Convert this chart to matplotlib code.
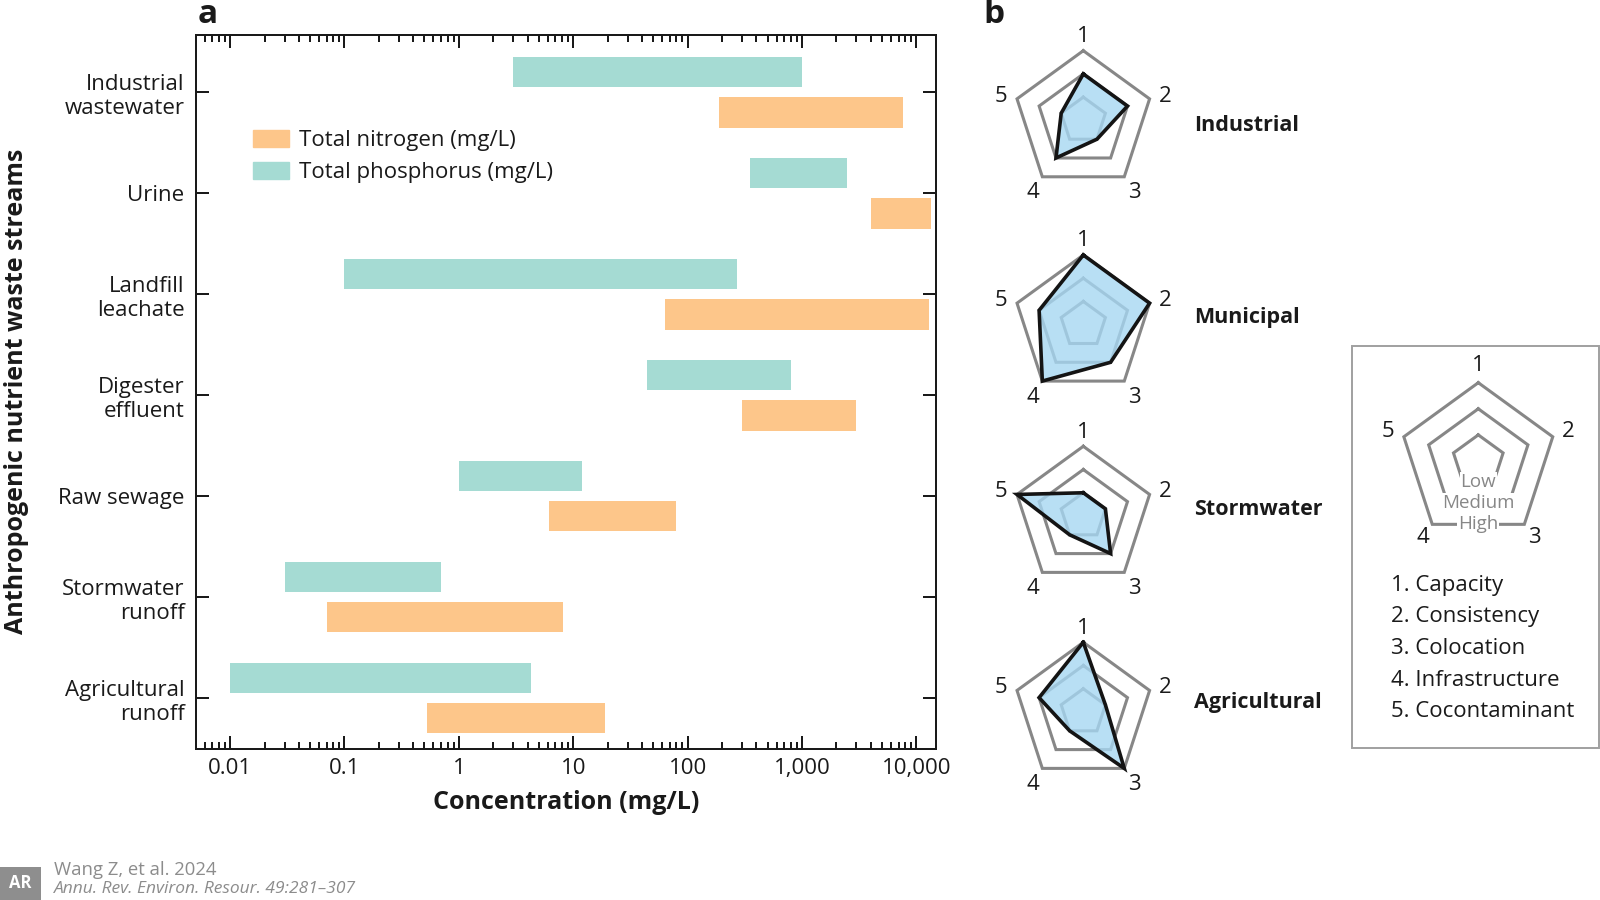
import numpy as np
import matplotlib
matplotlib.use("Agg")
import matplotlib.pyplot as plt
import matplotlib.transforms as mtransforms
from matplotlib.patches import Patch, Rectangle
from matplotlib.ticker import FixedLocator, LogLocator, NullFormatter

plt.rcParams['font.family'] = ['Open Sans', 'DejaVu Sans']

# ---------------- data ----------------
categories = ["Industrial\nwastewater", "Urine", "Landfill\nleachate", "Digester\neffluent",
              "Raw sewage", "Stormwater\nrunoff", "Agricultural\nrunoff"]
phosphorus_low = [3, 350, 0.1, 44, 1, 0.03, 0.01]
phosphorus_high = [1000, 2500, 270, 800, 12, 0.7, 4.3]
nitrogen_low = [190, 4000, 64, 300, 6.2, 0.07, 0.53]
nitrogen_high = [7700, 13500, 13000, 3000, 80, 8.2, 19]

x_ticks = [0.01, 0.1, 1, 10, 100, 1000, 10000]
x_tick_labels = ["0.01", "0.1", "1", "10", "100", "1,000", "10,000"]

radar_names = ["Industrial", "Municipal", "Stormwater", "Agricultural"]
radar_values = [
    [2, 2, 1, 2, 1],
    [3, 3, 2, 3, 2],
    [1, 1, 2, 1, 3],
    [3, 1, 3, 1, 2],
]
radar_levels = [1, 2, 3]
level_names = ["Low", "Medium", "High"]
criteria = ["Capacity", "Consistency", "Colocation", "Infrastructure", "Cocontaminant"]

TEAL = "#A5DBD3"
ORANGE = "#FDC68A"
GRAY = "#878787"
FILL = "#A6D7F2"

W, H = 1600, 900
fig = plt.figure(figsize=(16, 9), dpi=100)


def fx(px):
    return px / W


def fy(py):
    return 1 - py / H


# ---------------- panel a ----------------
ax = fig.add_axes([fx(195.7), fy(749.3), fx(936) - fx(195.7), fy(35) - fy(749.3)])
y = np.arange(len(categories))
p_lo = np.array(phosphorus_low)
p_hi = np.array(phosphorus_high)
n_lo = np.array(nitrogen_low)
n_hi = np.array(nitrogen_high)
ax.barh(y - 0.2, p_hi - p_lo, left=p_lo, height=0.3, color=TEAL, zorder=2)
ax.barh(y + 0.2, n_hi - n_lo, left=n_lo, height=0.3, color=ORANGE, zorder=2)

ax.set_xscale("log")
ax.set_xlim(0.005, 14870)
ax.set_ylim(6.508, -0.568)
ax.xaxis.set_major_locator(FixedLocator(x_ticks))
ax.set_xticklabels(x_tick_labels)
ax.xaxis.set_minor_locator(LogLocator(base=10, subs=np.arange(2, 10)))
ax.xaxis.set_minor_formatter(NullFormatter())
ax.set_yticks(y)
ax.set_yticklabels(categories)
for lab in ax.get_yticklabels():
    lab.set_linespacing(1.2)

ax.tick_params(axis="both", which="both", direction="in", top=True, right=True,
               width=1.44, colors="#1a1a1a", labelcolor="#1a1a1a")
ax.tick_params(axis="x", which="major", length=9.1, labelsize=16, pad=6)
ax.tick_params(axis="x", which="minor", length=4.8)
ax.tick_params(axis="y", which="major", length=9.4, labelsize=16, pad=8)
for s in ax.spines.values():
    s.set_linewidth(1.44)
    s.set_color("#1a1a1a")

ax.set_xlabel("Concentration (mg/L)", fontsize=18, fontweight="bold", labelpad=8,
              color="#1a1a1a")
ax.set_ylabel("Anthropogenic nutrient waste streams", fontsize=18, fontweight="bold",
              color="#1a1a1a")
ax.yaxis.set_label_coords((29 - 195.7) / 740.3, (749.3 - 391) / 714.3)

leg = ax.legend(handles=[Patch(color=ORANGE), Patch(color=TEAL)],
                labels=["Total nitrogen (mg/L)", "Total phosphorus (mg/L)"],
                loc="upper left", bbox_to_anchor=(0.0774, 0.8671), frameon=False,
                fontsize=16, handlelength=1.6, handleheight=0.83, handletextpad=0.45,
                labelspacing=0.47, borderpad=0, borderaxespad=0)
for t in leg.get_texts():
    t.set_color("#1a1a1a")

fig.text(fx(198), fy(23), "a", fontsize=24, fontweight="bold", va="baseline",
         ha="left", color="#1a1a1a")
fig.text(fx(983), fy(23), "b", fontsize=24, fontweight="bold", va="baseline",
         ha="left", color="#1a1a1a")

# ---------------- panel b ----------------
angles = 2 * np.pi * np.arange(5) / 5
closed = np.append(angles, angles[0])


def radar_axes(cx, cy, R):
    rax = fig.add_axes([fx(cx - R), fy(cy + R), fx(2 * R), fy(0) - fy(2 * R)],
                       projection="polar")
    rax.set_theta_zero_location("N")
    rax.set_theta_direction(-1)
    rax.set_ylim(0, 3)
    rax.set_axis_off()
    for lev in radar_levels:
        rax.plot(closed, [lev] * 6, color=GRAY, lw=2.2, clip_on=False, zorder=2,
                 solid_joinstyle="miter")
    return rax


radar_cx = 1083.3
radar_cy = [120.4, 324.7, 516.0, 712.0]
title_y = [125.5, 317.5, 509.5, 702.5]
R = 69.7
for name, vals, cy, ty in zip(radar_names, radar_values, radar_cy, title_y):
    rax = radar_axes(radar_cx, cy, R)
    v = np.append(vals, vals[0])
    rax.fill(closed, v, color=FILL, alpha=0.8, zorder=3, clip_on=False, lw=0)
    rax.plot(closed, v, color="#141414", lw=2.6, zorder=4, clip_on=False,
             solid_joinstyle="miter")
    num_tr = mtransforms.offset_copy(rax.transData, fig=fig, x=0, y=-2.5, units="dots")
    for k, a in enumerate(angles):
        rax.text(a, 3.72, str(k + 1), ha="center", va="center", fontsize=16,
                 color="#1a1a1a", clip_on=False, transform=num_tr)
    fig.text(fx(1194), fy(ty), name, fontsize=15.5, fontweight="bold",
             ha="left", va="center", color="#1a1a1a")

# key box
fig.add_artist(Rectangle((fx(1352), fy(748)), fx(247), fy(0) - fy(402),
                         transform=fig.transFigure, fill=False,
                         edgecolor="#a0a0a0", lw=1.4))
kax = radar_axes(1478.3, 461, 78.3)
for k, a in enumerate(angles):
    kax.text(a, 3.64, str(k + 1), ha="center", va="center", fontsize=16,
             color="#1a1a1a", clip_on=False)
for lev, lname in zip(radar_levels, level_names):
    kax.text(np.pi, lev * np.cos(np.pi / 5), lname, ha="center", va="center",
             fontsize=13.5, color=GRAY, zorder=5,
             bbox=dict(boxstyle="square,pad=0.05", facecolor="white", edgecolor="none"))
for i, c in enumerate(criteria):
    fig.text(fx(1390.7), fy(585 + 31.7 * i), f"{i + 1}. {c}", fontsize=16,
             ha="left", va="center", color="#1a1a1a")

# ---------------- credit ----------------
fig.add_artist(Rectangle((0, 0), fx(41), fy(867), transform=fig.transFigure,
                         facecolor="#8e8e8e", edgecolor="none"))
fig.text(fx(20.5), fy(883.5), "AR", fontsize=12, fontweight="bold", color="white",
         ha="center", va="center")
fig.text(fx(54), fy(870), "Wang Z, et al. 2024", fontsize=13.3, color="#8c8c8c",
         ha="left", va="center")
fig.text(fx(54), fy(889), "Annu. Rev. Environ. Resour. 49:281\u2013307", fontsize=12.5,
         color="#8c8c8c", ha="left", va="center", style="italic")

fig.savefig("out.png", dpi=100)
